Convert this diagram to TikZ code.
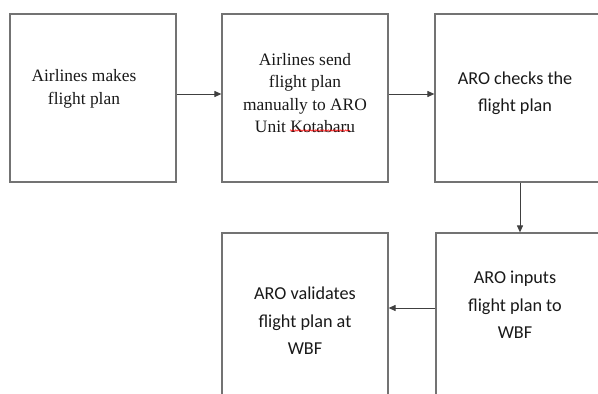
\documentclass[tikz,border=0pt]{standalone}
\usepackage{fontspec}
\setmainfont{Liberation Serif}
\newfontfamily\calibri{Carlito}
\usetikzlibrary{arrows.meta,decorations.pathmorphing}
\tikzset{
  stepbox/.style={draw=black!55, line width=1.2pt, minimum width=166pt, minimum height=168pt, inner sep=0pt},
  flow/.style={draw=black!75, line width=1pt, -{Triangle[length=7pt,width=6pt]}},
  serif text/.style={align=center, inner sep=0pt, font=\fontsize{17.4}{22.5}\selectfont, text=black!90},
  sans text/.style={align=center, inner sep=0pt, font=\calibri\fontsize{18.2}{27.5}\selectfont, text=black!90},
}
\begin{document}
\begin{tikzpicture}[x=1pt,y=-1pt]
    \useasboundingbox (0,0) rectangle (598,394);
    \clip (0,0) rectangle (598,394);
    \fill[white] (0,0) rectangle (598,394);
    % upper row
    \node[stepbox] (make) at (93,98) {};
    \node[stepbox] (send) at (305,98) {};
    \node[stepbox] (check) at (518,98) {};
    % lower row
    \node[stepbox] (validate) at (305,317) {};
    \node[stepbox] (input) at (519,317) {};
    % texts
    \node[serif text] (make text) at (84,89) {Airlines makes\\flight plan};
    \node[serif text] (send text) at (305,93) {Airlines send\\flight plan\\manually to ARO\\Unit Kotabaru};
    \node[sans text] (check text) at (515,93) {ARO checks the\\flight plan};
    \node[sans text] (input text) at (515,305) {ARO inputs\\flight plan to\\WBF};
    \node[sans text] (validate text) at (305,321) {ARO validates\\flight plan at\\WBF};
    \draw[red, line width=0.5pt, decorate, decoration={snake, amplitude=0.8pt, segment length=2.5pt}] (290,130.5) -- (350,130.5);
    % connectors
    \draw[flow] ([yshift=4pt]make.east) -- ([yshift=4pt]send.west);
    \draw[flow] ([yshift=4pt]send.east) -- ([yshift=4pt]check.west);
    \draw[flow] ([xshift=2pt]check.south) -- ([xshift=2pt]check.south |- input.north);
    \draw[flow] ([yshift=9pt]input.west) -- ([yshift=9pt]validate.east);
\end{tikzpicture}
\end{document}
